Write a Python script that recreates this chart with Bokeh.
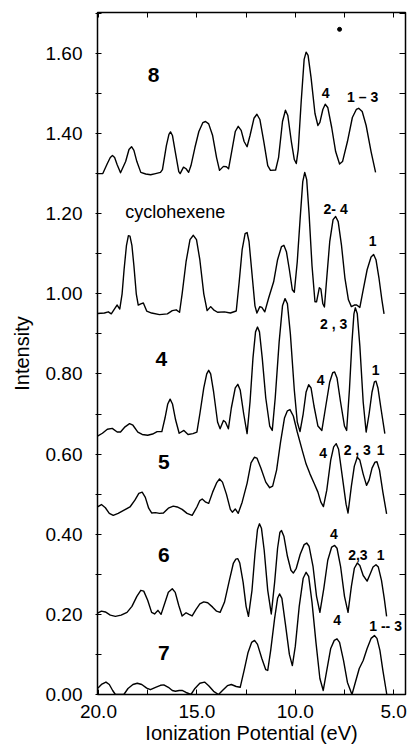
from bokeh.plotting import figure
from bokeh.models import Range1d, LinearAxis, FixedTicker, NumeralTickFormatter
from bokeh.core.properties import value
from bokeh.embed import file_html
from bokeh.resources import INLINE

# ---- data: ionization potential (eV) and intensity ----
x8 = [20.05, 19.78, 19.55, 19.40, 19.29, 19.18, 19.05, 18.88, 18.62, 18.45, 18.32, 18.20, 18.05, 17.85, 17.60, 17.35, 17.10, 16.85, 16.75, 16.55, 16.42, 16.34, 16.24, 16.10, 15.92, 15.85, 15.68, 15.55, 15.42, 15.30, 15.10, 14.90, 14.70, 14.56, 14.40, 14.20, 14.00, 13.85, 13.65, 13.50, 13.39, 13.25, 13.05, 12.90, 12.75, 12.60, 12.45, 12.30, 12.10, 11.95, 11.80, 11.60, 11.40, 11.26, 11.00, 10.85, 10.65, 10.50, 10.38, 10.20, 10.05, 9.95, 9.85, 9.70, 9.55, 9.45, 9.35, 9.20, 9.00, 8.85, 8.75, 8.60, 8.48, 8.35, 8.15, 7.95, 7.75, 7.60, 7.35, 7.10, 6.90, 6.78, 6.60, 6.40, 6.15, 5.92]
y8 = [1.300, 1.300, 1.325, 1.340, 1.345, 1.340, 1.322, 1.302, 1.330, 1.360, 1.367, 1.358, 1.330, 1.303, 1.299, 1.297, 1.300, 1.303, 1.310, 1.370, 1.398, 1.404, 1.395, 1.355, 1.305, 1.300, 1.316, 1.312, 1.303, 1.320, 1.365, 1.405, 1.427, 1.430, 1.424, 1.395, 1.340, 1.308, 1.318, 1.317, 1.312, 1.350, 1.405, 1.418, 1.408, 1.380, 1.367, 1.395, 1.438, 1.448, 1.435, 1.380, 1.320, 1.308, 1.309, 1.340, 1.430, 1.458, 1.445, 1.380, 1.335, 1.325, 1.360, 1.480, 1.585, 1.603, 1.595, 1.540, 1.450, 1.420, 1.428, 1.460, 1.473, 1.465, 1.415, 1.355, 1.324, 1.330, 1.380, 1.440, 1.460, 1.463, 1.455, 1.420, 1.355, 1.303]

xc = [20.05, 19.70, 19.50, 19.35, 19.15, 19.05, 18.92, 18.80, 18.70, 18.58, 18.48, 18.40, 18.30, 18.20, 18.08, 17.98, 17.85, 17.72, 17.55, 17.30, 16.90, 16.50, 16.25, 16.05, 15.88, 15.75, 15.55, 15.35, 15.18, 15.02, 14.85, 14.65, 14.48, 14.30, 14.15, 13.95, 13.60, 13.30, 13.00, 12.85, 12.70, 12.55, 12.45, 12.35, 12.20, 12.05, 11.95, 11.80, 11.70, 11.55, 11.35, 11.10, 10.90, 10.70, 10.58, 10.45, 10.30, 10.15, 10.05, 9.90, 9.75, 9.62, 9.52, 9.42, 9.30, 9.15, 9.00, 8.92, 8.78, 8.70, 8.60, 8.52, 8.40, 8.25, 8.08, 7.95, 7.82, 7.65, 7.48, 7.30, 7.15, 7.00, 6.88, 6.72, 6.55, 6.35, 6.15, 6.02, 5.90, 5.75, 5.60, 5.49]
yc = [0.951, 0.952, 0.955, 0.950, 0.965, 0.972, 0.962, 1.000, 1.060, 1.120, 1.145, 1.144, 1.120, 1.070, 1.000, 0.972, 0.975, 0.977, 0.957, 0.952, 0.948, 0.950, 0.958, 0.960, 0.954, 1.000, 1.080, 1.135, 1.146, 1.135, 1.085, 1.000, 0.958, 0.968, 0.960, 0.954, 0.955, 0.952, 0.957, 1.030, 1.110, 1.150, 1.153, 1.130, 1.050, 0.970, 0.952, 0.968, 0.966, 0.955, 0.990, 1.030, 1.085, 1.118, 1.121, 1.105, 1.060, 1.010, 1.004, 1.080, 1.190, 1.280, 1.303, 1.285, 1.200, 1.070, 0.980, 0.980, 1.015, 1.012, 0.975, 0.967, 1.040, 1.130, 1.185, 1.193, 1.180, 1.120, 1.040, 0.985, 0.968, 0.972, 0.972, 0.966, 1.010, 1.060, 1.092, 1.098, 1.085, 1.040, 0.985, 0.950]

x4 = [20.05, 19.80, 19.55, 19.30, 19.05, 18.88, 18.65, 18.42, 18.25, 18.00, 17.78, 17.50, 17.25, 17.02, 16.78, 16.62, 16.48, 16.36, 16.24, 16.08, 15.90, 15.66, 15.45, 15.20, 15.00, 14.85, 14.65, 14.50, 14.40, 14.30, 14.15, 13.95, 13.82, 13.65, 13.55, 13.40, 13.25, 13.05, 12.92, 12.80, 12.62, 12.45, 12.30, 12.15, 12.02, 11.92, 11.82, 11.68, 11.50, 11.30, 11.17, 11.02, 10.82, 10.65, 10.52, 10.40, 10.25, 10.05, 9.90, 9.76, 9.60, 9.45, 9.32, 9.20, 9.05, 8.85, 8.65, 8.45, 8.25, 8.10, 8.00, 7.88, 7.70, 7.50, 7.39, 7.25, 7.12, 7.02, 6.95, 6.85, 6.72, 6.55, 6.40, 6.25, 6.10, 5.98, 5.90, 5.80, 5.65, 5.45]
y4 = [0.645, 0.652, 0.662, 0.664, 0.655, 0.655, 0.668, 0.676, 0.672, 0.655, 0.649, 0.647, 0.650, 0.656, 0.656, 0.690, 0.725, 0.737, 0.725, 0.685, 0.652, 0.659, 0.649, 0.651, 0.655, 0.700, 0.765, 0.800, 0.809, 0.800, 0.755, 0.680, 0.663, 0.684, 0.680, 0.663, 0.715, 0.765, 0.774, 0.760, 0.700, 0.651, 0.730, 0.840, 0.905, 0.917, 0.905, 0.840, 0.740, 0.670, 0.659, 0.740, 0.880, 0.970, 0.988, 0.975, 0.900, 0.760, 0.680, 0.656, 0.700, 0.755, 0.773, 0.765, 0.720, 0.670, 0.659, 0.720, 0.780, 0.803, 0.805, 0.790, 0.730, 0.670, 0.659, 0.760, 0.880, 0.950, 0.965, 0.950, 0.870, 0.730, 0.655, 0.700, 0.755, 0.780, 0.782, 0.765, 0.715, 0.651]

x5 = [20.05, 19.85, 19.65, 19.45, 19.25, 19.00, 18.70, 18.40, 18.15, 17.95, 17.78, 17.62, 17.45, 17.30, 17.10, 16.90, 16.70, 16.45, 16.20, 16.00, 15.75, 15.50, 15.24, 15.00, 14.85, 14.73, 14.55, 14.40, 14.20, 14.00, 13.85, 13.70, 13.50, 13.30, 13.20, 13.05, 12.90, 12.70, 12.45, 12.25, 12.08, 11.95, 11.75, 11.50, 11.30, 11.15, 10.95, 10.75, 10.55, 10.40, 10.27, 10.10, 9.90, 9.65, 9.45, 9.25, 9.05, 8.85, 8.70, 8.57, 8.40, 8.20, 8.05, 7.92, 7.80, 7.60, 7.42, 7.32, 7.15, 7.00, 6.85, 6.72, 6.55, 6.38, 6.25, 6.10, 5.95, 5.85, 5.72, 5.55, 5.36]
y5 = [0.468, 0.474, 0.466, 0.452, 0.447, 0.452, 0.460, 0.468, 0.485, 0.502, 0.505, 0.492, 0.465, 0.453, 0.454, 0.452, 0.453, 0.465, 0.470, 0.468, 0.462, 0.452, 0.447, 0.468, 0.484, 0.488, 0.480, 0.477, 0.505, 0.528, 0.538, 0.530, 0.500, 0.462, 0.455, 0.463, 0.452, 0.480, 0.527, 0.578, 0.592, 0.590, 0.565, 0.530, 0.516, 0.520, 0.560, 0.630, 0.690, 0.708, 0.711, 0.695, 0.655, 0.610, 0.575, 0.550, 0.528, 0.505, 0.480, 0.469, 0.510, 0.585, 0.618, 0.626, 0.612, 0.540, 0.475, 0.453, 0.520, 0.570, 0.592, 0.585, 0.550, 0.522, 0.535, 0.565, 0.580, 0.581, 0.560, 0.505, 0.451]

x6 = [20.05, 19.85, 19.65, 19.40, 19.14, 18.85, 18.55, 18.30, 18.05, 17.85, 17.70, 17.50, 17.30, 17.15, 16.98, 16.82, 16.65, 16.45, 16.25, 16.10, 15.92, 15.75, 15.55, 15.40, 15.24, 15.05, 14.85, 14.65, 14.45, 14.20, 14.00, 13.82, 13.60, 13.35, 13.15, 13.02, 12.92, 12.82, 12.65, 12.50, 12.38, 12.20, 12.05, 11.92, 11.82, 11.72, 11.58, 11.40, 11.22, 11.05, 10.90, 10.78, 10.70, 10.58, 10.40, 10.22, 10.10, 9.95, 9.75, 9.55, 9.42, 9.30, 9.10, 8.92, 8.75, 8.55, 8.35, 8.15, 8.00, 7.88, 7.70, 7.50, 7.32, 7.15, 7.00, 6.85, 6.72, 6.55, 6.35, 6.20, 6.05, 5.90, 5.78, 5.62, 5.48, 5.36]
y6 = [0.203, 0.208, 0.206, 0.198, 0.195, 0.198, 0.205, 0.220, 0.245, 0.260, 0.258, 0.235, 0.205, 0.201, 0.210, 0.200, 0.225, 0.255, 0.264, 0.255, 0.222, 0.196, 0.204, 0.200, 0.196, 0.212, 0.226, 0.231, 0.229, 0.218, 0.208, 0.205, 0.230, 0.285, 0.327, 0.338, 0.339, 0.328, 0.280, 0.220, 0.195, 0.260, 0.350, 0.412, 0.426, 0.415, 0.360, 0.260, 0.201, 0.280, 0.365, 0.405, 0.409, 0.395, 0.345, 0.310, 0.303, 0.315, 0.350, 0.374, 0.378, 0.370, 0.320, 0.245, 0.205, 0.265, 0.335, 0.368, 0.372, 0.365, 0.320, 0.245, 0.205, 0.270, 0.315, 0.328, 0.322, 0.297, 0.283, 0.300, 0.318, 0.324, 0.318, 0.285, 0.240, 0.195]

x7 = [20.05, 19.85, 19.62, 19.45, 19.28, 19.14, 18.71, 18.50, 18.25, 18.03, 17.80, 17.55, 17.36, 17.10, 16.85, 16.68, 16.45, 16.25, 16.09, 15.90, 15.75, 15.55, 15.30, 15.10, 14.85, 14.61, 14.40, 14.15, 13.90, 13.70, 13.45, 13.25, 13.00, 12.80, 12.60, 12.40, 12.22, 12.07, 11.92, 11.70, 11.50, 11.40, 11.25, 11.05, 10.90, 10.80, 10.68, 10.50, 10.30, 10.15, 10.00, 9.80, 9.60, 9.45, 9.32, 9.15, 8.95, 8.75, 8.58, 8.40, 8.20, 8.02, 7.88, 7.75, 7.55, 7.35, 7.12, 6.95, 6.75, 6.55, 6.35, 6.15, 5.98, 5.85, 5.70, 5.55, 5.35]
y7 = [0.015, 0.025, 0.031, 0.025, 0.010, 0.000, 0.000, 0.015, 0.025, 0.028, 0.025, 0.016, 0.012, 0.018, 0.023, 0.024, 0.018, 0.010, 0.008, 0.010, 0.010, 0.005, 0.000, 0.015, 0.028, 0.031, 0.022, 0.008, 0.000, 0.010, 0.022, 0.025, 0.020, 0.018, 0.060, 0.105, 0.130, 0.135, 0.125, 0.090, 0.062, 0.060, 0.110, 0.190, 0.240, 0.251, 0.240, 0.175, 0.100, 0.072, 0.120, 0.220, 0.290, 0.305, 0.295, 0.230, 0.130, 0.040, 0.010, 0.060, 0.115, 0.135, 0.139, 0.130, 0.085, 0.030, 0.000, 0.030, 0.065, 0.085, 0.115, 0.140, 0.147, 0.140, 0.110, 0.060, 0.000]

dot_x = [7.75]
dot_y = [1.66]

# compound names (large) and band assignments (small)
name_text = ["8", "4", "5", "6", "7"]
name_x = [17.2, 16.8, 16.68, 16.68, 16.68]
name_y = [1.545, 0.838, 0.580, 0.347, 0.103]

cyc_text = ["cyclohexene"]
cyc_x = [16.1]
cyc_y = [1.204]

band_text = ["4", "1 \u2013 3", "2- 4", "1", "2 , 3", "4", "1", "4", "2 , 3", "1", "4", "2,3", "1", "4", "1 -- 3"]
band_x = [8.46, 6.58, 7.95, 6.07, 8.05, 8.71, 5.92, 8.58, 6.85, 5.66, 8.04, 6.82, 5.66, 7.87, 5.41]
band_y = [1.500, 1.490, 1.212, 1.133, 0.925, 0.785, 0.809, 0.602, 0.611, 0.609, 0.400, 0.347, 0.347, 0.185, 0.170]

x_ticks = [20.0, 15.0, 10.0, 5.0]
x_minor = [17.5, 12.5, 7.5]
y_ticks = [0.0, 0.2, 0.4, 0.6, 0.8, 1.0, 1.2, 1.4, 1.6]
y_minor = [0.1, 0.3, 0.5, 0.7, 0.9, 1.1, 1.3, 1.5, 1.7]

FONT = "Liberation Sans"

p = figure(width=408, height=746, output_backend="svg", toolbar_location=None,
           x_range=Range1d(20.05, 4.4), y_range=Range1d(0, 1.702),
           min_border_left=97, min_border_right=3, min_border_top=12, min_border_bottom=52,
           x_axis_label="Ionization Potential (eV)", y_axis_label="Intensity")
p.grid.visible = False
p.outline_line_color = "black"
p.outline_line_width = 1.5
p.background_fill_color = "white"
p.border_fill_color = "white"

for xs, ys in [(x8, y8), (xc, yc), (x4, y4), (x5, y5), (x6, y6), (x7, y7)]:
    p.line(xs, ys, line_color="black", line_width=1.4, line_join="round")

p.scatter(dot_x, dot_y, size=4, color="black")

p.text(name_x, name_y, text=name_text, text_font=value(FONT), text_font_style="bold",
       text_font_size="21px", text_align="center", text_baseline="middle", text_color="black")
p.text(cyc_x, cyc_y, text=cyc_text, text_font=value(FONT),
       text_font_size="18px", text_align="center", text_baseline="middle", text_color="black")
p.text(band_x, band_y, text=band_text, text_font=value(FONT), text_font_style="bold",
       text_font_size="14px", text_align="center", text_baseline="middle", text_color="black")

xa = p.xaxis[0]
xa.ticker = FixedTicker(ticks=x_ticks, minor_ticks=x_minor)
xa.formatter = NumeralTickFormatter(format="0.0")
ya = p.yaxis[0]
ya.ticker = FixedTicker(ticks=y_ticks, minor_ticks=y_minor)
ya.formatter = NumeralTickFormatter(format="0.00")

for ax in (xa, ya):
    ax.major_label_text_font = FONT
    ax.major_label_text_font_size = "19px"
    ax.major_label_text_color = "black"
    ax.axis_label_text_font = FONT
    ax.axis_label_text_font_size = "20px"
    ax.axis_label_text_font_style = "normal"
    ax.axis_label_text_color = "black"
    ax.axis_line_color = "black"
    ax.major_tick_line_color = "black"
    ax.minor_tick_line_color = "black"
xa.major_tick_in = 5
xa.major_tick_out = 0
xa.minor_tick_in = 5
xa.minor_tick_out = 0
xa.major_label_standoff = 10
xa.axis_label_standoff = 1
ya.major_tick_in = 4
ya.major_tick_out = 2
ya.minor_tick_in = 4
ya.minor_tick_out = 2
ya.major_label_standoff = 13
ya.axis_label_standoff = 10

# tick-only frame axes on top and right (no labels: ticks drawn as minor ticks)
top = LinearAxis(ticker=FixedTicker(ticks=[], minor_ticks=x_ticks + x_minor),
                 minor_tick_in=5, minor_tick_out=0, major_tick_in=0, major_tick_out=0,
                 major_label_standoff=0, axis_line_color="black", minor_tick_line_color="black")
p.add_layout(top, "above")
right = LinearAxis(ticker=FixedTicker(ticks=[], minor_ticks=y_ticks + y_minor),
                   minor_tick_in=6, minor_tick_out=0, major_tick_in=0, major_tick_out=0,
                   major_label_standoff=0, axis_line_color="black", minor_tick_line_color="black")
p.add_layout(right, "right")

open("out.html", "w").write(file_html(p, INLINE))
